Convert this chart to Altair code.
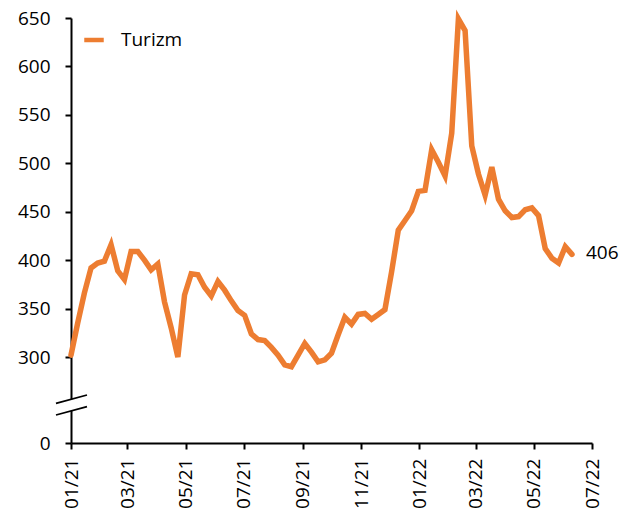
import altair as alt
import pandas as pd

# weekly tourism index values, starting 01 Jan 2021
values = [302, 335, 366, 392, 397, 399, 416, 389, 380, 409,
          409, 400, 390, 396, 357, 330, 300, 364, 386, 385,
          372, 363, 378, 369, 358, 348, 343, 324, 318, 317,
          310, 302, 292, 290, 302, 314, 305, 295, 297, 304,
          323, 341, 334, 344, 345, 339, 344, 349, 388, 431,
          441, 451, 471, 472, 514, 501, 487, 531, 649, 637,
          518, 489, 467, 496, 463, 451, 444, 445, 452, 454,
          446, 412, 402, 397, 414, 406]
series_name = "Turizm"
tick_months = [(2021, 1), (2021, 3), (2021, 5), (2021, 7), (2021, 9), (2021, 11),
               (2022, 1), (2022, 3), (2022, 5), (2022, 7)]
y_ticks = [0, 300, 350, 400, 450, 500, 550, 600, 650]

dates = pd.date_range("2021-01-01", periods=len(values), freq="7D")
df = pd.DataFrame({
    "date": dates.strftime("%Y-%m-%dT%H:%M:%S"),
    "value": values,
    "series": series_name,
})
last = df.tail(1)

FONT = "Open Sans"
FS = 19
ORANGE = "#ED7D31"

x_enc = alt.X(
    "date:T",
    scale=alt.Scale(domain=[alt.DateTime(year=2021, month=1, date=1),
                            alt.DateTime(year=2022, month=7, date=1)]),
    axis=alt.Axis(
        title=None,
        values=[alt.DateTime(year=y, month=m, date=1) for y, m in tick_months],
        format="%m/%y",
        labelAngle=270,
        labelPadding=9,
        tickSize=6,
        grid=False,
    ),
)
# broken axis: 280..650 linear, 0..280 compressed
y_scale = alt.Scale(domain=[0, 280, 650], range=[425, 358.4, 0], nice=False, zero=False)
y_enc = alt.Y(
    "value:Q",
    scale=y_scale,
    axis=alt.Axis(title=None, values=y_ticks, tickSize=6, labelPadding=15, grid=False),
)

line = alt.Chart(df).mark_line(strokeWidth=5.5, strokeCap="round").encode(
    x=x_enc,
    y=y_enc,
    color=alt.Color(
        "series:N",
        scale=alt.Scale(domain=[series_name], range=[ORANGE]),
        legend=alt.Legend(
            title=None, orient="none", legendX=11, legendY=10,
            symbolType="stroke", symbolSize=380, symbolStrokeWidth=4.5,
            labelFont=FONT, labelFontSize=FS, labelOffset=15, padding=0,
            labelColor="black",
        ),
    ),
)

end_label = alt.Chart(last).mark_text(
    align="left", baseline="middle", dx=14, dy=-1, font=FONT, fontSize=FS, color="black"
).encode(x="date:T", y=alt.Y("value:Q", scale=y_scale), text="value:Q")

# axis break decoration
gap = alt.Chart(df.head(1)).mark_rect(color="white").encode(
    x=alt.value(-3), x2=alt.value(3),
    y=alt.datum(135.0, scale=y_scale), y2=alt.datum(184.1),
)
slash1 = alt.Chart(df.head(1)).mark_rule(color="black", strokeWidth=1.8).encode(
    x=alt.value(-15), x2=alt.value(16),
    y=alt.datum(166.9, scale=y_scale), y2=alt.datum(201.8),
)
slash2 = alt.Chart(df.head(1)).mark_rule(color="black", strokeWidth=1.8).encode(
    x=alt.value(-15), x2=alt.value(16),
    y=alt.datum(117.7, scale=y_scale), y2=alt.datum(152.6),
)

chart = alt.layer(line, end_label, gap, slash1, slash2).properties(
    width=521,
    height=425,
    padding={"left": 63, "top": 10, "right": 30, "bottom": 68},
    autosize=alt.AutoSizeParams(type="none"),
).configure_view(stroke=None).configure_axis(
    labelFont=FONT, labelFontSize=FS, labelColor="black",
    domainColor="black", domainWidth=2, tickColor="black", tickWidth=2,
)

chart.save("out.html", embed_options={"renderer": "svg", "actions": False})
